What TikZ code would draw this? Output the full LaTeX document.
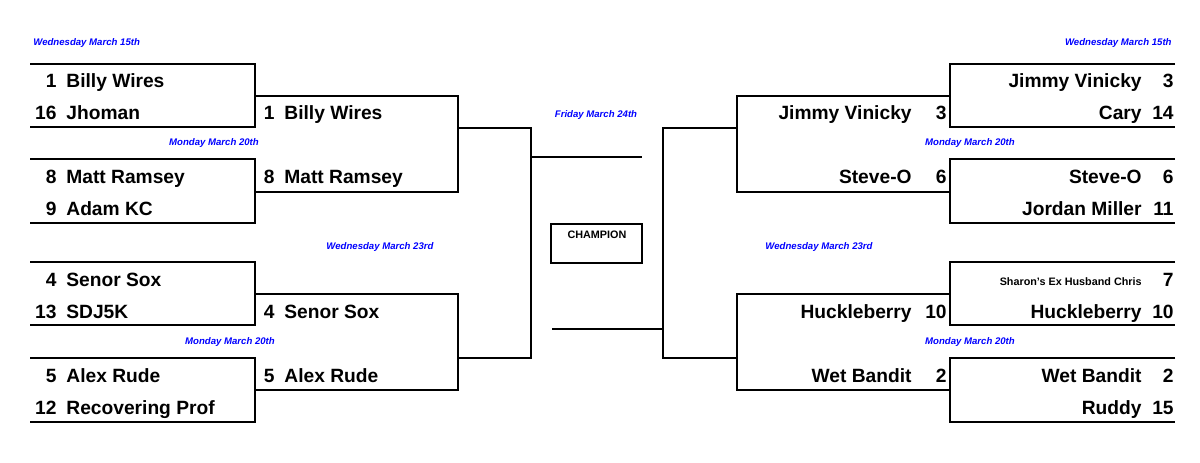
\documentclass[tikz,border=0pt]{standalone}
\usepackage{fontspec}
\setmainfont{Liberation Sans}
\tikzset{
  bracket/.style={black, line width=1.2pt},
  player/.style={font=\fontsize{9.6}{10}\selectfont\bfseries, inner sep=0pt},
  date/.style={font=\fontsize{4.8}{5}\selectfont\bfseries\itshape, text=blue, inner sep=0pt},
}
\begin{document}
\begin{tikzpicture}[x=0.5pt,y=-0.5pt]
\useasboundingbox (0,0) rectangle (1200,462);
% left, first round
\draw[bracket] (30,64) -- (255,64) -- (255,127) -- (30,127);
\draw[bracket] (30,159) -- (255,159) -- (255,223) -- (30,223);
\draw[bracket] (30,262) -- (255,262) -- (255,325) -- (30,325);
\draw[bracket] (30,358) -- (255,358) -- (255,422) -- (30,422);
% left, second round
\draw[bracket] (255,96) -- (458,96) -- (458,192) -- (255,192);
\draw[bracket] (255,294) -- (458,294) -- (458,390) -- (255,390);
% left, semi final
\draw[bracket] (458,128) -- (531,128) -- (531,358) -- (458,358);
\draw[bracket] (531,157) -- (642,157);
% right, first round
\draw[bracket] (1175,64) -- (950,64) -- (950,127) -- (1175,127);
\draw[bracket] (1175,159) -- (950,159) -- (950,223) -- (1175,223);
\draw[bracket] (1175,262) -- (950,262) -- (950,325) -- (1175,325);
\draw[bracket] (1175,358) -- (950,358) -- (950,422) -- (1175,422);
% right, second round
\draw[bracket] (950,96) -- (737,96) -- (737,192) -- (950,192);
\draw[bracket] (950,294) -- (737,294) -- (737,390) -- (950,390);
% right, semi final
\draw[bracket] (737,128) -- (663,128) -- (663,358) -- (737,358);
\draw[bracket] (663,329) -- (552,329);
% champion
\draw[black, line width=1pt] (551,224) rectangle (642,263);
\node[font=\fontsize{5.4}{6}\selectfont\bfseries, inner sep=0pt] (champ) at (597,235) {CHAMPION};
% dates
\node[date, anchor=west] (d1) at (33,43) {Wednesday March 15th};
\node[date, anchor=east] (d2) at (1172,43) {Wednesday March 15th};
\node[date] (d3) at (214,143) {Monday March 20th};
\node[date] (d4) at (970,143) {Monday March 20th};
\node[date] (d5) at (380,247) {Wednesday March 23rd};
\node[date] (d6) at (819,247) {Wednesday March 23rd};
\node[date] (d7) at (230,342) {Monday March 20th};
\node[date] (d8) at (970,342) {Monday March 20th};
\node[date] (d9) at (596,115) {Friday March 24th};
% left players
\foreach \s/\n/\y [count=\i] in {1/Billy Wires/87, 16/Jhoman/119, 8/Matt Ramsey/183, 9/Adam KC/215,
    4/Senor Sox/286, 13/SDJ5K/318, 5/Alex Rude/382, 12/Recovering Prof/414} {
  \node[player, anchor=base east] (ls\i) at (57,\y) {\s};
  \node[player, anchor=base west] (ln\i) at (66,\y) {\n};
}
\foreach \s/\n/\y [count=\i] in {1/Billy Wires/119, 8/Matt Ramsey/183, 4/Senor Sox/318, 5/Alex Rude/382} {
  \node[player, anchor=base east] (ms\i) at (275,\y) {\s};
  \node[player, anchor=base west] (mn\i) at (284,\y) {\n};
}
% right players
\foreach \s/\n/\y [count=\i] in {3/Jimmy Vinicky/87, 14/Cary/119, 6/Steve-O/183, 11/Jordan Miller/215,
    10/Huckleberry/318, 2/Wet Bandit/382, 15/Ruddy/414} {
  \node[player, anchor=base east] (rs\i) at (1174,\y) {\s};
  \node[player, anchor=base east] (rn\i) at (1142,\y) {\n};
}
\node[player, anchor=base east] (rs8) at (1174,286) {7};
\node[font=\fontsize{5.4}{6}\selectfont\bfseries, inner sep=0pt, anchor=base east] (rn8) at (1142,285) {Sharon's Ex Husband Chris};
\foreach \s/\n/\y [count=\i] in {3/Jimmy Vinicky/119, 6/Steve-O/183, 10/Huckleberry/318, 2/Wet Bandit/382} {
  \node[player, anchor=base east] (qs\i) at (947,\y) {\s};
  \node[player, anchor=base east] (qn\i) at (912,\y) {\n};
}
\end{tikzpicture}
\end{document}
